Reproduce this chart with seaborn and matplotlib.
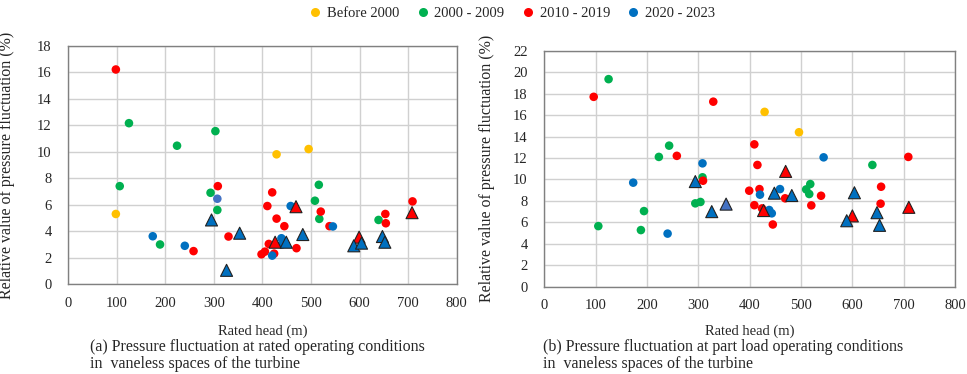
import matplotlib
matplotlib.use("Agg")
import matplotlib.pyplot as plt
from matplotlib.lines import Line2D
import seaborn as sns
import pandas as pd

periods = ["Before 2000", "2000 - 2009", "2010 - 2019", "2020 - 2023"]
period_colors = {"Before 2000": "#FFC000", "2000 - 2009": "#00B050",
                 "2010 - 2019": "#FF0000", "2020 - 2023": "#0070C0",
                 "2020 - 2023 (light)": "#4472C4"}

# (a) rated operating conditions
a_y2k_x = [98, 429, 495]
a_y2k_y = [5.3, 9.8, 10.2]
a_00s_x = [125, 303, 224, 106, 293, 307, 189, 516, 508, 517, 639]
a_00s_y = [12.15, 11.55, 10.45, 7.4, 6.9, 5.6, 3.0, 7.5, 6.3, 4.93, 4.85]
a_10s_x = [98, 308, 330, 258, 420, 410, 520, 429, 445, 538, 653, 654, 709, 413, 405, 398, 424, 470]
a_10s_y = [16.2, 7.4, 3.6, 2.5, 6.93, 5.9, 5.48, 4.95, 4.38, 4.38, 5.3, 4.6, 6.25, 3.04, 2.46, 2.26, 2.31, 2.72]
a_20s_x = [174, 240, 458, 545, 439, 440, 420]
a_20s_y = [3.62, 2.9, 5.9, 4.36, 3.47, 3.0, 2.16]
a_20s_light_x = [307]
a_20s_light_y = [6.45]
a_10s_tri_x = [469, 708, 426, 599]
a_10s_tri_y = [5.85, 5.4, 3.17, 3.55]
a_20s_tri_x = [295, 353, 326, 483, 449, 588, 604, 647, 652]
a_20s_tri_y = [4.85, 3.85, 1.05, 3.75, 3.17, 2.9, 3.1, 3.6, 3.17]

# (b) part load operating conditions
b_y2k_x = [429, 496]
b_y2k_y = [16.3, 14.4]
b_00s_x = [125, 243, 223, 308, 294, 304, 194, 105, 188, 639, 518, 510, 516]
b_00s_y = [19.35, 13.15, 12.1, 10.2, 7.77, 7.9, 7.05, 5.65, 5.28, 11.35, 9.57, 9.07, 8.64]
b_10s_x = [96, 329, 258, 309, 409, 415, 709, 656, 399, 419, 469, 539, 409, 520, 655, 424, 445]
b_10s_y = [17.7, 17.25, 12.2, 9.88, 13.27, 11.35, 12.1, 9.32, 8.95, 9.1, 8.24, 8.48, 7.6, 7.58, 7.74, 7.3, 5.8]
b_20s_x = [308, 173, 240, 544, 420, 459, 438, 443]
b_20s_y = [11.5, 9.7, 4.95, 12.06, 8.58, 9.1, 7.15, 6.84]
b_10s_tri_x = [470, 710, 427, 600]
b_10s_tri_y = [10.75, 7.4, 7.1, 6.6]
b_20s_tri_x = [294, 326, 448, 482, 604, 648, 589, 653]
b_20s_tri_y = [9.8, 7.0, 8.72, 8.5, 8.76, 6.9, 6.15, 5.72]
b_20s_light_tri_x = [354]
b_20s_light_tri_y = [7.7]


def build(groups):
    rows = []
    for xs, ys, period, shape in groups:
        for x, y in zip(xs, ys):
            rows.append({"head": x, "value": y, "period": period, "shape": shape})
    return pd.DataFrame(rows)


df_a = build([
    (a_y2k_x, a_y2k_y, "Before 2000", "o"),
    (a_00s_x, a_00s_y, "2000 - 2009", "o"),
    (a_10s_x, a_10s_y, "2010 - 2019", "o"),
    (a_20s_x, a_20s_y, "2020 - 2023", "o"),
    (a_20s_light_x, a_20s_light_y, "2020 - 2023 (light)", "o"),
    (a_10s_tri_x, a_10s_tri_y, "2010 - 2019", "^"),
    (a_20s_tri_x, a_20s_tri_y, "2020 - 2023", "^"),
])
df_b = build([
    (b_y2k_x, b_y2k_y, "Before 2000", "o"),
    (b_00s_x, b_00s_y, "2000 - 2009", "o"),
    (b_10s_x, b_10s_y, "2010 - 2019", "o"),
    (b_20s_x, b_20s_y, "2020 - 2023", "o"),
    (b_10s_tri_x, b_10s_tri_y, "2010 - 2019", "^"),
    (b_20s_tri_x, b_20s_tri_y, "2020 - 2023", "^"),
    (b_20s_light_tri_x, b_20s_light_tri_y, "2020 - 2023 (light)", "^"),
])

sns.set_style("whitegrid")
plt.rcParams["font.family"] = ["Liberation Serif", "DejaVu Serif"]
plt.rcParams["font.size"] = 10.5

fig = plt.figure(figsize=(9.67, 3.74), dpi=100)
ax_a = fig.add_axes([0.0706, 0.240, 0.4017, 0.638])
ax_b = fig.add_axes([0.563, 0.2334, 0.4246, 0.631])


def draw(ax, df, ymax, ylab_x, xlab_y):
    circ = df[df["shape"] == "o"]
    tri = df[df["shape"] == "^"]
    sns.scatterplot(data=circ, x="head", y="value", hue="period", palette=period_colors,
                    marker="o", s=38, edgecolor="none", legend=False, ax=ax, zorder=3)
    sns.scatterplot(data=tri, x="head", y="value", hue="period", palette=period_colors,
                    marker="^", s=75, edgecolor="#222222", linewidth=0.8, legend=False,
                    ax=ax, zorder=4)
    ax.set_xlim(0, 800)
    ax.set_ylim(0, ymax)
    ax.set_xticks(range(0, 801, 100))
    ax.set_yticks(range(0, ymax + 1, 2))
    ax.grid(True, color="#D0D0D0", linewidth=1)
    ax.set_axisbelow(True)
    for sp in ax.spines.values():
        sp.set_color("#808080")
        sp.set_linewidth(1)
    ax.tick_params(length=0, pad=12, labelsize=10.5)
    ax.tick_params(axis="x", pad=9)
    ax.set_xlabel("Rated head (m)", fontsize=10.5)
    ax.set_ylabel("Relative value of pressure fluctuation (%)", fontsize=11.5)
    ax.yaxis.set_label_coords(ylab_x, 0.5)
    ax.xaxis.set_label_coords(0.5, xlab_y)


draw(ax_a, df_a, 18, -0.137, -0.17)
draw(ax_b, df_b, 22, -0.12, -0.162)

cap_size = 11.5
fig.text(90 / 967, 1 - 347 / 374, "(a) Pressure fluctuation at rated operating conditions",
         va="center", ha="left", fontsize=cap_size)
fig.text(90 / 967, 1 - 364 / 374, "in  vaneless spaces of the turbine",
         va="center", ha="left", fontsize=cap_size)
fig.text(543 / 967, 1 - 347 / 374, "(b) Pressure fluctuation at part load operating conditions",
         va="center", ha="left", fontsize=cap_size)
fig.text(543 / 967, 1 - 364 / 374, "in  vaneless spaces of the turbine",
         va="center", ha="left", fontsize=cap_size)

handles = [Line2D([], [], linestyle="none", marker="o", markersize=6.5,
                  markerfacecolor=period_colors[p], markeredgecolor="none", label=p)
           for p in periods]
fig.legend(handles=handles, loc="center", bbox_to_anchor=(0.529, 0.965), ncol=4,
           frameon=False, fontsize=10.5, handletextpad=0.3, columnspacing=1.1,
           handlelength=1.0)

fig.savefig("out.png", dpi=100)
